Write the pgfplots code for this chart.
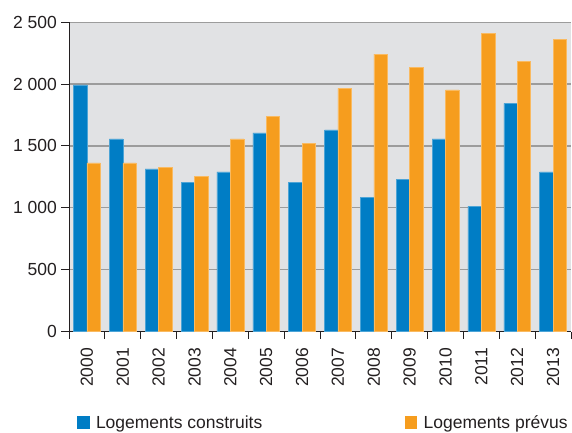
\documentclass[border=0pt]{standalone}
\usepackage{fontspec}
\setmainfont{Liberation Sans}
\usepackage{pgfplots}
\pgfplotsset{compat=1.18}
\definecolor{cblue}{HTML}{007DC5}
\definecolor{corange}{HTML}{F69D1E}
\definecolor{bg}{HTML}{E1E2E4}
\definecolor{gridc}{HTML}{9C9C9C}
\definecolor{txt}{HTML}{231F20}
\begin{document}
\begin{tikzpicture}
\begin{axis}[
  scale only axis, width=502pt, height=309.6pt,
  xmin=-0.5, xmax=13.5, ymin=0, ymax=2500,
  ybar=0pt, bar width=13.4pt,
  axis lines=left, axis line style={-, color=txt, line width=1pt},
  axis background/.style={fill=bg},
  ymajorgrids, grid style={gridc, line width=1.2pt},
  xtick={0,...,13},
  xticklabels={2000,2001,2002,2003,2004,2005,2006,2007,2008,2009,2010,2011,2012,2013},
  major x tick style=transparent,
  minor xtick={-0.5,0.5,...,13.5},
  minor tick length=7pt,
  ytick={0,500,...,2500}, major tick length=8pt,
  tick align=outside, tick style={color=txt, line width=1pt},
  scaled y ticks=false,
  /pgf/number format/assume math mode=true,
  /pgf/number format/1000 sep={\ },
  tick label style={font=\fontsize{17.5}{20}\selectfont, text=txt},
  x tick label style={rotate=90, anchor=east, inner sep=0pt, xshift=-8pt},
  y tick label style={inner sep=0pt, xshift=-4pt},
  legend style={at={(0,0)}, anchor=north west, xshift=8.3pt, yshift=-84pt,
    draw=none, fill=none, inner sep=0pt, outer sep=0pt,
    font=\fontsize{17.5}{20}\selectfont, text=txt,
    nodes={inner sep=0pt},
    /tikz/every odd column/.append style={column sep=6.7pt},
    /tikz/every even column/.append style={column sep=142.6pt}},
  legend columns=2, legend cell align=left,
]
\coordinate (o) at (rel axis cs:0,0);
\addplot[fill=cblue, draw=cblue!70!white, line width=0.5pt,
  legend image code/.code={\fill[cblue] (0pt,-4.8pt) rectangle (11.5pt,7pt);}]
  coordinates {(0,1993) (1,1557) (2,1315) (3,1207) (4,1290) (5,1606) (6,1207)
  (7,1630) (8,1086) (9,1231) (10,1557) (11,1013) (12,1843) (13,1290)};
\addplot[fill=corange, draw=corange!70!white, line width=0.5pt,
  legend image code/.code={\fill[corange] (0pt,-4.8pt) rectangle (11.5pt,7pt);}]
  coordinates {(0,1363) (1,1363) (2,1325) (3,1255) (4,1557) (5,1738) (6,1519)
  (7,1964) (8,2241) (9,2134) (10,1953) (11,2408) (12,2182) (13,2360)};
\legend{Logements construits, Logements prévus}
\end{axis}
\pgfresetboundingbox
\path[use as bounding box] ([xshift=-69pt,yshift=-100.3pt]o) rectangle ++(572pt,432pt);
\end{tikzpicture}
\end{document}
